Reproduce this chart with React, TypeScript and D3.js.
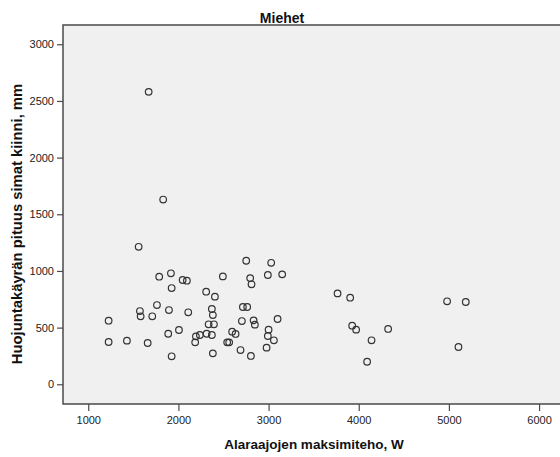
import React, { useRef, useEffect } from "react";
import * as d3 from "d3";

// Alaraajojen maksimiteho (W) ja huojuntakäyrän pituus (mm), miehet
const powerW = [
  1670, 1831, 1559, 2752, 3029, 1917, 1787, 2047, 2094, 2493, 2796, 2992, 3151,
  2811, 1925, 2308, 2405, 1762, 1573, 1581, 1710, 1895, 2109, 2371, 2382, 2715,
  2763, 1226, 2704, 2834, 2848, 3100, 2335, 2394, 2006, 1887, 2194, 2238, 2313,
  2371, 2186, 2596, 2634, 2541, 2563, 3000, 2992, 3059, 2978, 1226, 1429, 1659,
  2382, 2689, 2804, 1925, 3765, 3905, 3927, 3971, 4326, 4142, 4093, 4980, 5187,
  5106,
];
const lengthMm = [
  2580, 1630, 1213, 1090, 1072, 979, 949, 920, 914, 952, 937, 964, 970,
  882, 849, 817, 773, 699, 646, 600, 600, 655, 635, 664, 611, 682,
  682, 561, 558, 564, 526, 576, 529, 529, 479, 446, 423, 435, 446,
  435, 370, 464, 444, 370, 370, 482, 426, 388, 323, 373, 385, 364,
  273, 302, 250, 247, 802, 764, 517, 482, 488, 388, 199, 732, 726,
  329,
];
const xTicks = [1000, 2000, 3000, 4000, 5000, 6000];
const yTicks = [0, 500, 1000, 1500, 2000, 2500, 3000];

const title = "Miehet";
const xTitle = "Alaraajojen maksimiteho, W";
const yTitle = "Huojuntakäyrän pituus simat kiinni, mm";

export default function App() {
  const ref = useRef<SVGSVGElement>(null);

  useEffect(() => {
    if (!ref.current) return;
    const svg = d3.select(ref.current);
    svg.selectAll("*").remove();

    const left = 63, right = 558, top = 25, bottom = 404;
    const font = "Arial, 'Liberation Sans', sans-serif";

    const x = d3.scaleLinear().domain([720, 6210]).range([left, right]);
    const y = d3.scaleLinear().domain([-174, 3170]).range([bottom, top]);

    // plot background + frame (right edge runs off the canvas)
    svg.append("rect")
      .attr("x", left).attr("y", top)
      .attr("width", 562 - left).attr("height", bottom - top)
      .attr("fill", "#f0f0f0").attr("stroke", "#4a4a4a").attr("stroke-width", 1.5);

    // y axis
    const gy = svg.append("g").attr("transform", `translate(${left},0)`)
      .call(d3.axisLeft(y).tickValues(yTicks).tickSize(6).tickPadding(3).tickFormat(d3.format("d")));
    gy.select(".domain").remove();
    gy.selectAll("line").attr("stroke", "#4a4a4a").attr("stroke-width", 1.2);
    gy.selectAll("text").attr("fill", "#222").style("font-size", "11px").style("font-family", font);

    // x axis
    const gx = svg.append("g").attr("transform", `translate(0,${bottom})`)
      .call(d3.axisBottom(x).tickValues(xTicks).tickSize(7).tickPadding(5).tickFormat(d3.format("d")));
    gx.select(".domain").remove();
    gx.selectAll("line").attr("stroke", "#4a4a4a").attr("stroke-width", 1.2);
    gx.selectAll("text").attr("fill", "#222").style("font-size", "11px").style("font-family", font);

    // points
    svg.append("g").selectAll("circle")
      .data(powerW.map((p, i) => ({ p, l: lengthMm[i] })))
      .enter().append("circle")
      .attr("cx", d => x(d.p)).attr("cy", d => y(d.l)).attr("r", 3.3)
      .attr("fill", "none").attr("stroke", "#333").attr("stroke-width", 1.2);

    // titles
    svg.append("text").attr("x", 282).attr("y", 23).attr("text-anchor", "middle")
      .style("font-family", font).style("font-weight", "bold").style("font-size", "14px")
      .attr("fill", "#111").text(title);

    svg.append("text").attr("x", 314).attr("y", 449).attr("text-anchor", "middle")
      .style("font-family", font).style("font-weight", "bold").style("font-size", "13.5px")
      .attr("fill", "#111").text(xTitle);

    svg.append("text").attr("transform", "translate(22,224) rotate(-90)").attr("text-anchor", "middle")
      .style("font-family", font).style("font-weight", "bold").style("font-size", "14.8px")
      .attr("fill", "#111").text(yTitle);
  }, []);

  return (
    <svg ref={ref} width={560} height={457}
      style={{ position: "absolute", left: 0, top: 0, background: "#fff", display: "block" }} />
  );
}
